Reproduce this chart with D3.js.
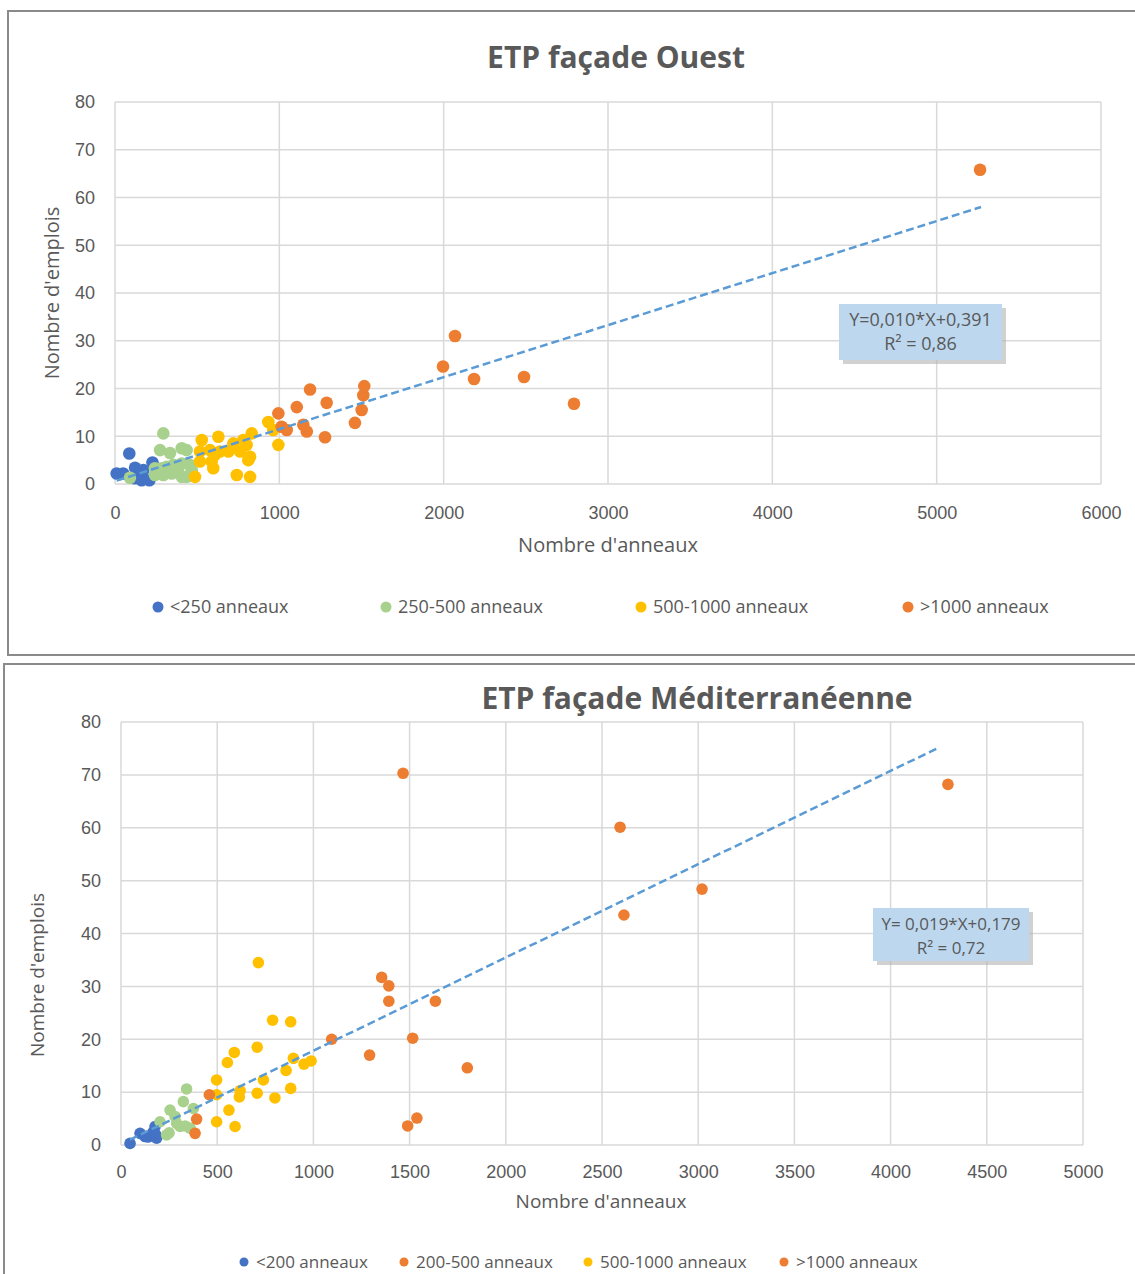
<!DOCTYPE html>
<html>
<head>
<meta charset="utf-8">
<script src="https://cdn.jsdelivr.net/npm/d3@7"></script>
<style>
body { margin: 0; background: #fff; }
svg { display: block; font-family: "Open Sans", "Noto Sans", sans-serif; }
</style>
</head>
<body>
<svg id="page" width="1135" height="1274"></svg>
<script>
// ---- Façade Ouest : [anneaux, emplois]
const ouestMoins250 = [[10, 2.2], [50, 2.2], [87, 6.4], [120, 1.2], [122, 3.4], [132, 1.5], [162, 0.8], [172, 2.9], [209, 0.8], [228, 4.5]];
const ouest250_500 = [[91, 1.3], [294, 10.6], [274, 7.1], [335, 6.5], [406, 7.5], [436, 7.1], [243, 3.3], [284, 3.3], [315, 3.6], [355, 4.0],
    [385, 3.3], [243, 1.9], [294, 1.9], [345, 2.2], [406, 1.5], [436, 1.5], [467, 2.9], [406, 4.3], [456, 4.0]];
const ouest500_1000 = [[487, 1.5], [528, 9.2], [629, 9.9], [517, 6.8], [578, 7.1], [608, 6.1], [639, 6.8], [690, 6.8], [720, 8.5], [761, 6.8],
    [801, 8.2], [781, 9.2], [598, 3.3], [588, 4.7], [517, 4.7], [741, 1.9], [822, 1.5], [832, 10.6], [822, 5.7], [811, 5.0],
    [933, 13.0], [963, 11.3], [994, 8.2]];
const ouestPlus1000 = [[994, 14.8], [1106, 16.1], [1187, 19.8], [1288, 17.0], [1014, 12.0], [1045, 11.3], [1146, 12.4], [1167, 11.0],
    [1278, 9.8], [1460, 12.8], [1501, 15.5], [1511, 18.6], [1517, 20.5], [1996, 24.6], [2069, 31.0], [2185, 22.0], [2489, 22.4],
    [2793, 16.8], [5264, 65.8]];
const ouestTendX = [10, 5270];
const ouestTendY = [0.7, 58];
const ouestLegende = ["<250 anneaux", "250-500 anneaux", "500-1000 anneaux", ">1000 anneaux"];
const ouestEquation = ["Y=0,010*X+0,391", "R² = 0,86"];
const ouestTicksX = [0, 1000, 2000, 3000, 4000, 5000, 6000];
const ouestTicksY = [0, 10, 20, 30, 40, 50, 60, 70, 80];

// ---- Façade Méditerranéenne : [anneaux, emplois]
const medMoins200 = [[47, 0.3], [99, 2.2], [125, 1.6], [140, 1.5], [160, 1.9], [168, 2.5], [177, 3.5], [185, 1.3], [180, 2.0]];
const med200_500 = [[341, 10.6], [324, 8.2], [376, 6.9], [255, 6.6], [281, 5.4], [203, 4.4], [289, 4.1], [333, 3.6], [237, 1.9],
    [359, 3.2], [307, 3.5], [250, 2.3]];
const med500_1000 = [[714, 34.5], [788, 23.6], [882, 23.3], [708, 18.5], [589, 17.5], [553, 15.6], [896, 16.4], [951, 15.3], [988, 15.9],
    [858, 14.1], [740, 12.3], [497, 12.3], [619, 10.3], [497, 9.5], [615, 9.1], [708, 9.8], [800, 8.9], [882, 10.7], [561, 6.6],
    [497, 4.4], [593, 3.5]];
const medPlus1000 = [[459, 9.5], [393, 4.9], [385, 2.2], [1466, 70.3], [2594, 60.1], [2614, 43.5], [3020, 48.4], [4298, 68.2],
    [1355, 31.7], [1392, 30.1], [1392, 27.2], [1634, 27.2], [1095, 20.0], [1516, 20.2], [1292, 17.0], [1800, 14.6], [1538, 5.1],
    [1490, 3.6]];
const medTendX = [47, 4241];
const medTendY = [1.0, 75];
const medLegende = ["<200 anneaux", "200-500 anneaux", "500-1000 anneaux", ">1000 anneaux"];
const medEquation = ["Y= 0,019*X+0,179", "R² = 0,72"];
const medTicksX = [0, 500, 1000, 1500, 2000, 2500, 3000, 3500, 4000, 4500, 5000];
const medTicksY = [0, 10, 20, 30, 40, 50, 60, 70, 80];

const BLUE = "#4472C4", GREEN = "#A9D18E", GOLD = "#FFC000", ORANGE = "#ED7D31";
const TEXT = "#595959", GRID = "#d9d9d9";

const svg = d3.select("#page");
svg.append("rect").attr("width", 1135).attr("height", 1274).attr("fill", "#fff");

// chart frames
svg.append("rect").attr("x", 8).attr("y", 11).attr("width", 1140).attr("height", 644)
    .attr("fill", "none").attr("stroke", "#8a8a8a").attr("stroke-width", 2);
svg.append("rect").attr("x", 4).attr("y", 664).attr("width", 1145).attr("height", 640)
    .attr("fill", "none").attr("stroke", "#8a8a8a").attr("stroke-width", 2);

function scatter_chart(cfg) {
    let g = svg.append("g");

    let xScale = d3.scaleLinear().domain(cfg.xDomain).range([cfg.left, cfg.right]);
    let yScale = d3.scaleLinear().domain(cfg.yDomain).range([cfg.bottom, cfg.top]);

    // gridlines
    g.append("g").selectAll("line").data(cfg.ticksY).enter().append("line")
        .attr("x1", cfg.left).attr("x2", cfg.right)
        .attr("y1", d => yScale(d)).attr("y2", d => yScale(d))
        .attr("stroke", GRID).attr("stroke-width", 1.5);
    g.append("g").selectAll("line").data(cfg.ticksX).enter().append("line")
        .attr("x1", d => xScale(d)).attr("x2", d => xScale(d))
        .attr("y1", cfg.top).attr("y2", cfg.bottom)
        .attr("stroke", GRID).attr("stroke-width", 1.5);

    // axes (labels only)
    let xAxis = g.append("g").attr("transform", `translate(0,${cfg.bottom})`)
        .call(d3.axisBottom(xScale).tickValues(cfg.ticksX).tickFormat(d3.format("d")).tickSize(0).tickPadding(cfg.xPad));
    let yAxis = g.append("g").attr("transform", `translate(${cfg.left},0)`)
        .call(d3.axisLeft(yScale).tickValues(cfg.ticksY).tickFormat(d3.format("d")).tickSize(0).tickPadding(cfg.yPad));
    [xAxis, yAxis].forEach(a => {
        a.select(".domain").remove();
        a.selectAll("text").attr("fill", TEXT).style("font-size", cfg.tickSize + "px").style("font-family", "inherit");
    });

    // points
    cfg.series.forEach(s => {
        g.append("g").selectAll("circle").data(s.data).enter().append("circle")
            .attr("cx", d => xScale(d[0]))
            .attr("cy", d => yScale(d[1]))
            .attr("r", cfg.radius)
            .attr("fill", s.color);
    });

    // trendline
    g.append("line")
        .attr("x1", xScale(cfg.trendX[0])).attr("y1", yScale(cfg.trendY[0]))
        .attr("x2", xScale(cfg.trendX[1])).attr("y2", yScale(cfg.trendY[1]))
        .attr("stroke", "#5B9BD5").attr("stroke-width", 2.5).attr("stroke-dasharray", "8,4");

    // equation label
    let box = cfg.eqBox;
    g.append("rect").attr("x", box.x + 4).attr("y", box.y + 4).attr("width", box.w).attr("height", box.h)
        .attr("fill", "#b3b3b3").attr("opacity", 0.6);
    g.append("rect").attr("x", box.x).attr("y", box.y).attr("width", box.w).attr("height", box.h)
        .attr("fill", "#BDD7EE");
    cfg.equation.forEach((t, i) => {
        g.append("text").attr("x", box.x + box.w / 2).attr("y", box.y + 22 + i * 24)
            .attr("text-anchor", "middle").attr("fill", TEXT).style("font-size", cfg.eqSize + "px").text(t);
    });

    // Title
    g.append("text").attr("x", cfg.titleX).attr("y", cfg.titleY)
        .attr("text-anchor", "middle").attr("fill", TEXT)
        .style("font-size", cfg.titleSize + "px").style("font-weight", "bold").text(cfg.title);

    // Axis labels
    g.append("text").attr("x", cfg.xLabelX).attr("y", cfg.xLabelY)
        .attr("text-anchor", "middle").attr("fill", TEXT).style("font-size", cfg.labelSize + "px").text("Nombre d'anneaux");
    g.append("text").attr("transform", `translate(${cfg.yLabelX},${cfg.yLabelY}) rotate(-90)`)
        .attr("text-anchor", "middle").attr("fill", TEXT).style("font-size", cfg.labelSize + "px").text("Nombre d'emplois");

    // Legend
    cfg.legend.forEach((t, i) => {
        let lx = cfg.legendX[i];
        g.append("circle").attr("cx", lx).attr("cy", cfg.legendY).attr("r", cfg.legendR).attr("fill", cfg.legendColors[i]);
        g.append("text").attr("x", lx + 12).attr("y", cfg.legendY).attr("dy", "0.35em")
            .attr("fill", TEXT).style("font-size", cfg.legendSize + "px").text(t);
    });
}

scatter_chart({
    left: 115, right: 1101, top: 102, bottom: 484,
    xDomain: [0, 6000], yDomain: [0, 80],
    ticksX: ouestTicksX, ticksY: ouestTicksY,
    xPad: 22, yPad: 20, tickSize: 18, radius: 6.3,
    series: [
        { data: ouestMoins250, color: BLUE },
        { data: ouest250_500, color: GREEN },
        { data: ouest500_1000, color: GOLD },
        { data: ouestPlus1000, color: ORANGE }
    ],
    trendX: ouestTendX, trendY: ouestTendY,
    equation: ouestEquation, eqSize: 18,
    eqBox: { x: 839, y: 304, w: 163, h: 56 },
    title: "ETP façade Ouest", titleX: 616, titleY: 68, titleSize: 30,
    xLabelX: 608, xLabelY: 552, labelSize: 20,
    yLabelX: 59, yLabelY: 293,
    legend: ouestLegende, legendColors: [BLUE, GREEN, GOLD, ORANGE],
    legendX: [158, 386, 641, 908], legendY: 607, legendR: 5.5, legendSize: 18
});

scatter_chart({
    left: 121, right: 1083, top: 722, bottom: 1145,
    xDomain: [0, 5000], yDomain: [0, 80],
    ticksX: medTicksX, ticksY: medTicksY,
    xPad: 20, yPad: 20, tickSize: 18, radius: 5.8,
    series: [
        { data: medMoins200, color: BLUE },
        { data: med200_500, color: GREEN },
        { data: med500_1000, color: GOLD },
        { data: medPlus1000, color: ORANGE }
    ],
    trendX: medTendX, trendY: medTendY,
    equation: medEquation, eqSize: 17,
    eqBox: { x: 873, y: 908, w: 156, h: 53 },
    title: "ETP façade Méditerranéenne", titleX: 697, titleY: 709, titleSize: 30,
    xLabelX: 601, xLabelY: 1208, labelSize: 19,
    yLabelX: 44, yLabelY: 975,
    legend: medLegende, legendColors: [BLUE, ORANGE, GOLD, ORANGE],
    legendX: [244, 404, 588, 784], legendY: 1262, legendR: 4.5, legendSize: 17
});
</script>
</body>
</html>
